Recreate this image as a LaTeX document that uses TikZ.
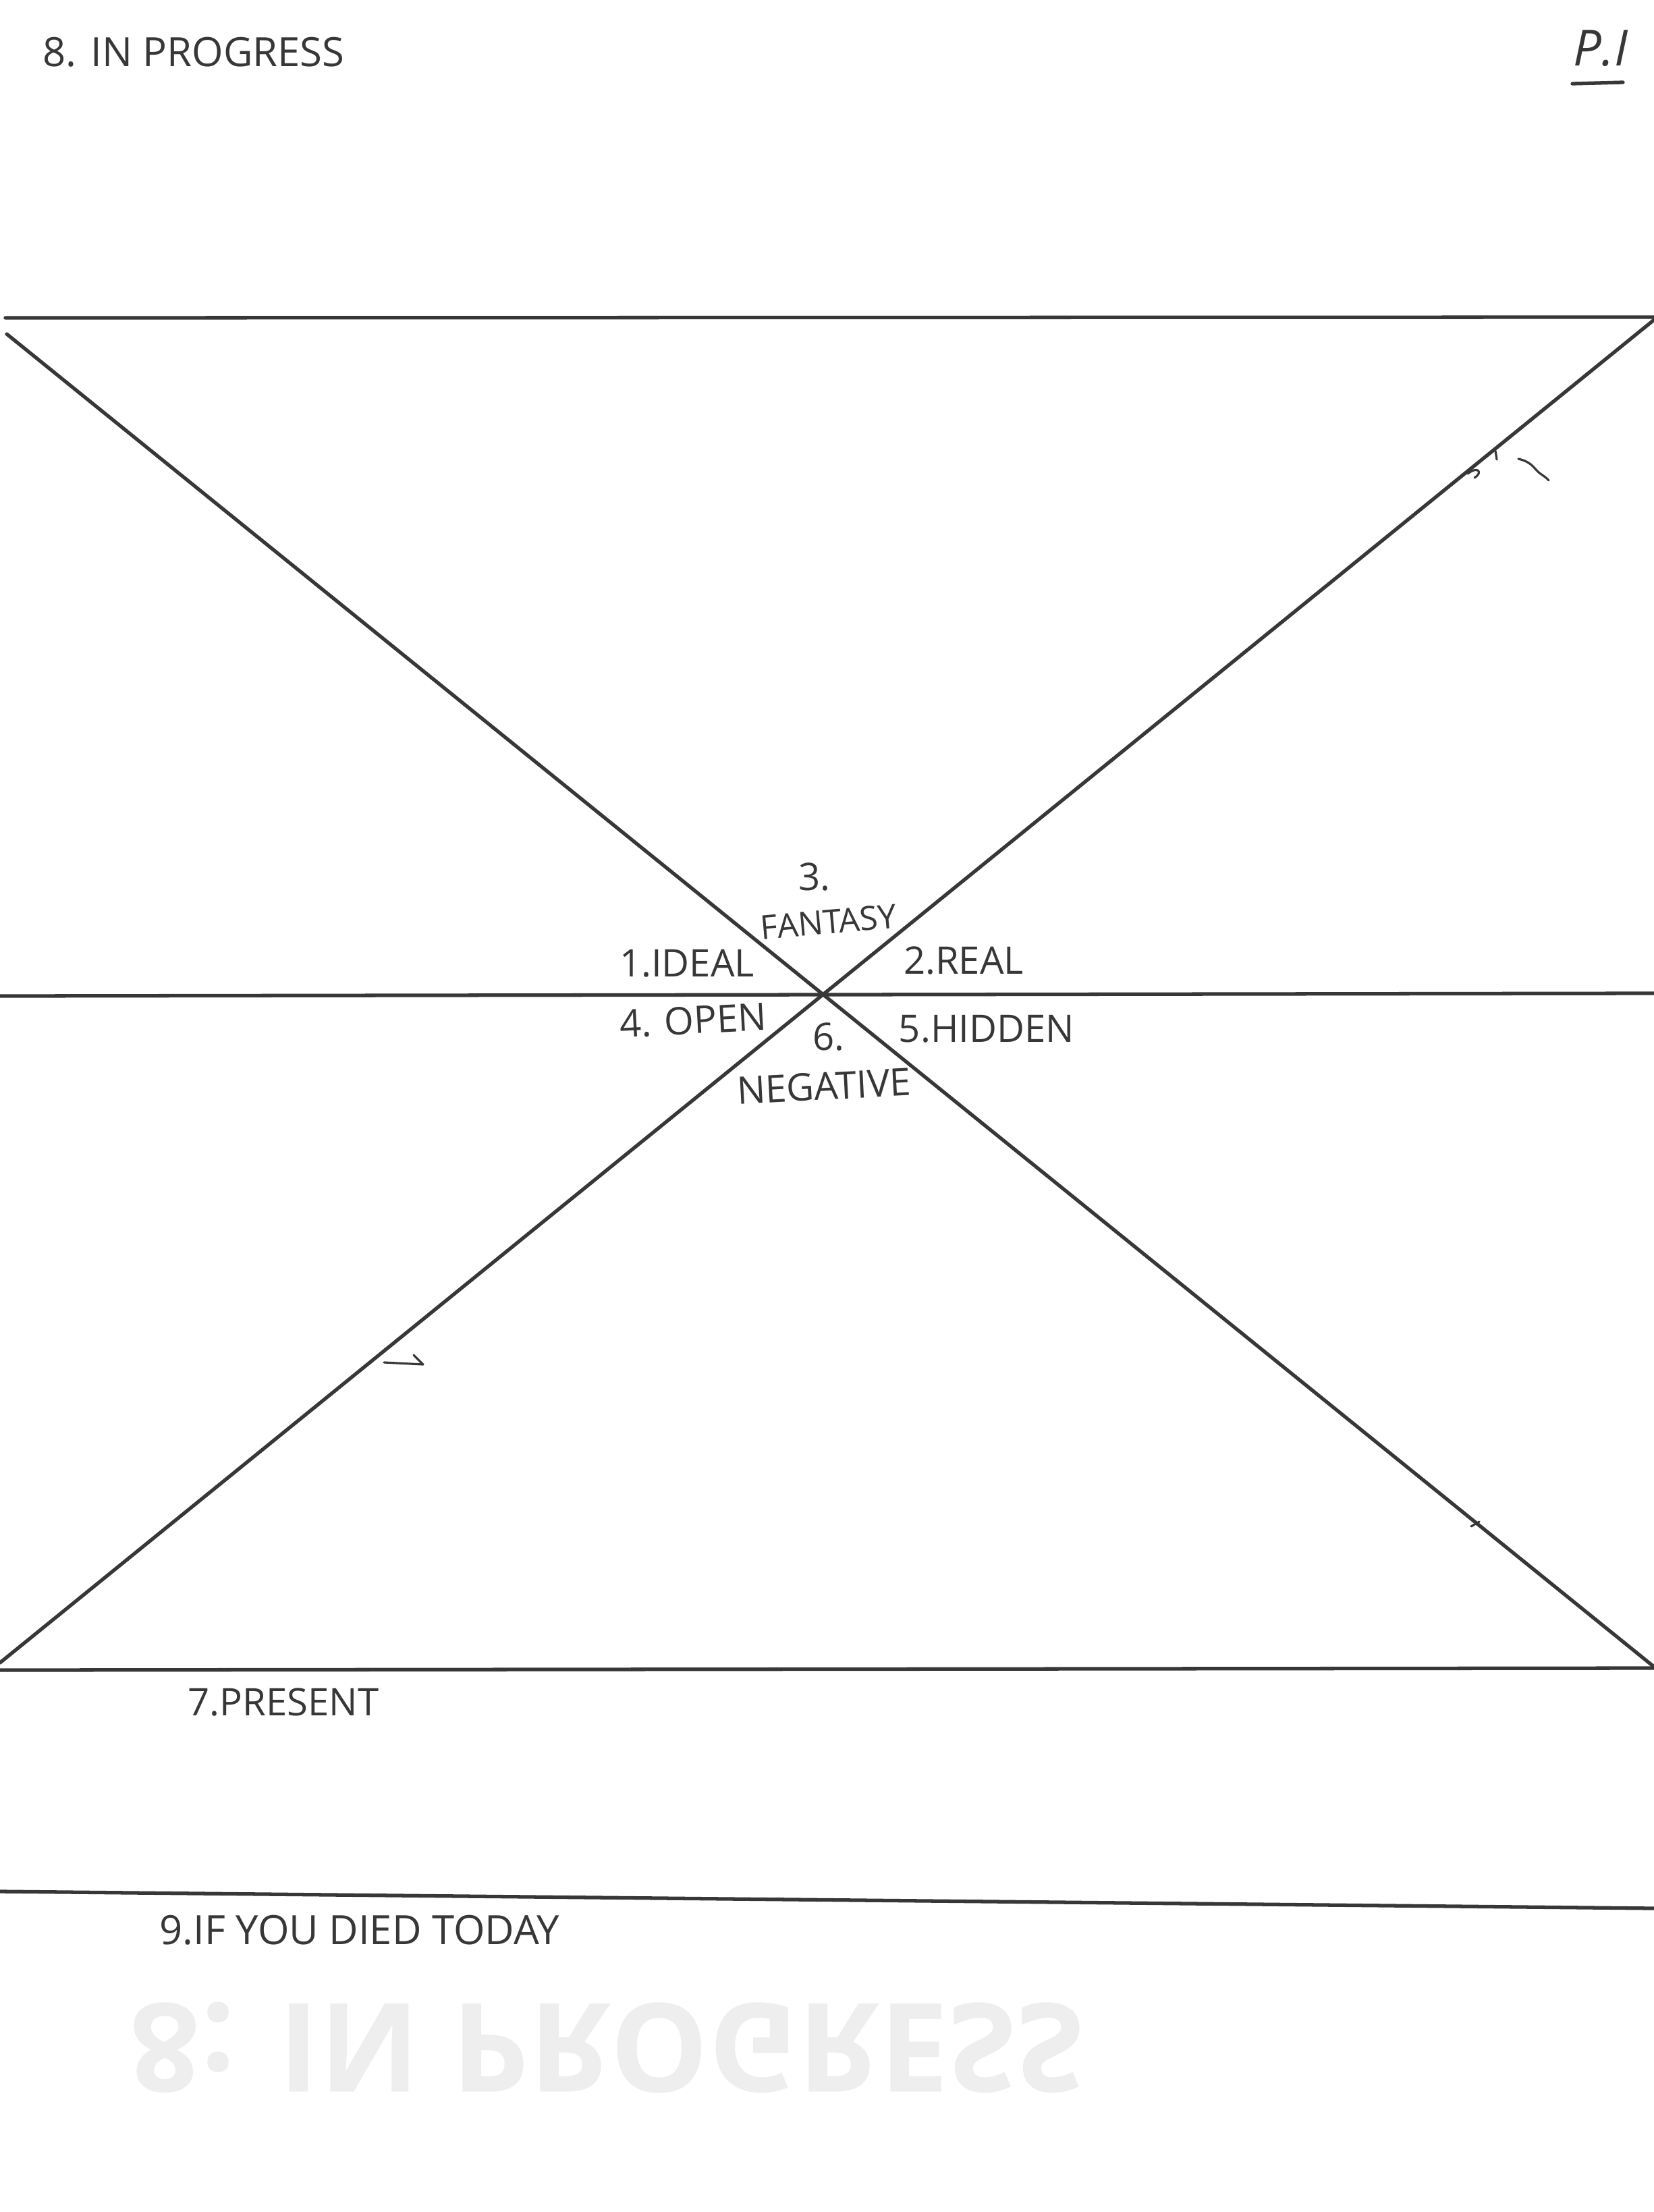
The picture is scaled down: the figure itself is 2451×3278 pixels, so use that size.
\documentclass[tikz,border=0pt]{standalone}
\usepackage{fontspec}
\setmainfont{Open Sans}
\definecolor{pencil}{RGB}{55,55,55}
\definecolor{ghost}{RGB}{238,238,238}
\begin{document}
\begin{tikzpicture}[x=0.01cm,y=-0.01cm,
  pline/.style={line width=1.5pt, draw=pencil, line cap=round},
  stray/.style={line width=0.9pt, draw=pencil, line cap=round, line join=round},
  lbl/.style={text=pencil, inner sep=0pt, font=\fontsize{16}{18}\selectfont},
  biglbl/.style={text=pencil, inner sep=0pt, font=\fontsize{17}{19}\selectfont}]
\fill[white] (0,0) rectangle (2451,3278);
\useasboundingbox (0,0) rectangle (2451,3278);

% faint show-through from the back of the sheet
\node[ghost, font=\fontsize{52}{56}\selectfont\bfseries, inner sep=0pt, yscale=-1, transform shape] (ghosttext) at (900,3035) {8: IN PROGRESS};

% horizontal rules
\coordinate (tl) at (8,471);   \coordinate (tr) at (2451,470);
\coordinate (ml) at (0,1476);  \coordinate (mr) at (2451,1472);
\coordinate (pl) at (0,2475);  \coordinate (pr) at (2451,2472);
\coordinate (dl) at (0,2803);  \coordinate (dr) at (2451,2828);
\draw[pline] (tl) -- (tr);
\draw[pline] (ml) -- (mr);
\draw[pline] (pl) -- (pr);
\draw[pline] (dl) -- (dr);

% diagonals
\coordinate (d1a) at (10,495);   \coordinate (d1b) at (2451,2470);
\coordinate (d2a) at (2451,474); \coordinate (d2b) at (0,2464);
\draw[pline] (d1a) -- (d1b);
\draw[pline] (d2a) -- (d2b);

% stray pencil marks
\coordinate (h1) at (569,2019); \coordinate (h2) at (627,2022); \coordinate (h3) at (613,2008);
\draw[stray] (h1) -- (h2) -- (h3);
\coordinate (q1) at (2175,702);
\draw[stray] (q1) .. controls (2190,690) and (2198,700) .. (2185,708);
\coordinate (q2) at (2216,668); \coordinate (q3) at (2218,681);
\draw[stray] (q2) -- (q3);
\coordinate (s1) at (2250,680);
\draw[stray] (s1) .. controls (2268,684) and (2272,692) .. (2280,700) .. controls (2288,706) and (2292,708) .. (2295,712);
\coordinate (t1) at (2180,2262); \coordinate (t2) at (2192,2255);
\draw[stray] (t1) -- (t2);

% header
\node[lbl, font=\fontsize{17}{19}\selectfont, anchor=west] (title) at (63,77) {8. IN PROGRESS};
\node[text=pencil, inner sep=0pt, font=\fontsize{21}{23}\selectfont\itshape] (page) at (2372,72) {P.I};
\coordinate (u1) at (2330,124); \coordinate (u2) at (2405,122);
\draw[line width=1.5pt, draw=pencil, line cap=round] (u1) -- (u2);

% centre labels
\node[lbl] (three) at (1207,1300) {3.};
\node[lbl, font=\fontsize{14}{16}\selectfont, rotate=5] (fantasy) at (1228,1366) {FANTASY};
\node[lbl] (ideal) at (1018,1428) {1.IDEAL};
\node[lbl] (real) at (1428,1424) {2.REAL};
\node[lbl, rotate=3] (open) at (1027,1512) {4. OPEN};
\node[lbl] (six) at (1228,1537) {6.};
\node[lbl] (hidden) at (1462,1525) {5.HIDDEN};
\node[lbl, rotate=3] (negative) at (1221,1610) {NEGATIVE};

% lower labels
\node[lbl, anchor=west] (present) at (278,2522) {7.PRESENT};
\node[biglbl, anchor=west] (died) at (236,2860) {9.IF YOU DIED TODAY};
\end{tikzpicture}
\end{document}
